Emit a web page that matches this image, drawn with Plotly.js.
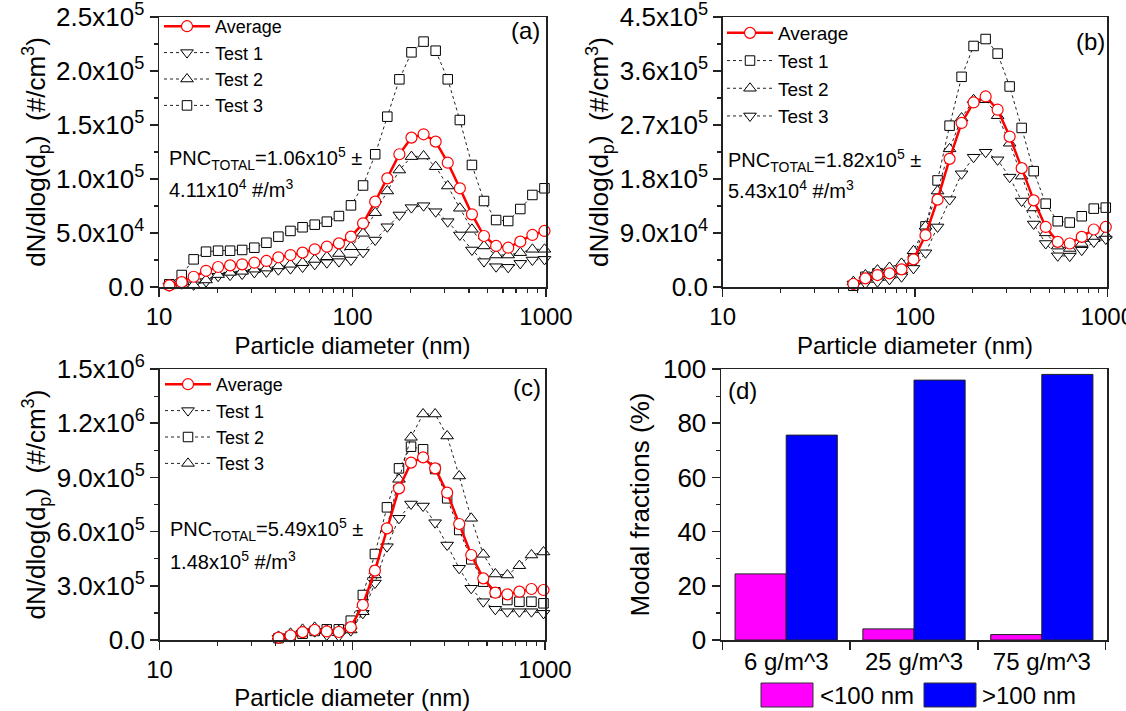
<!DOCTYPE html>
<html><head><meta charset="utf-8">
<script src="https://cdn.plot.ly/plotly-3.0.1.min.js"></script>
<style>html,body{margin:0;padding:0;background:#fff}#chart{width:1126px;height:711px}</style>
</head><body><div id="chart"></div>
<script>
// ---------- DATA ----------
// particle diameters (nm), SMPS channel midpoints
const dpA = [11.3, 13.1, 15.1, 17.5, 20.2, 23.3, 26.9, 31.1, 35.9, 41.4, 47.8, 55.2, 63.8, 73.7, 85.1, 98.2, 113.4, 131.0, 151.3, 174.7, 201.7, 233.0, 269.0, 310.6, 358.7, 414.2, 478.3, 552.3, 637.8, 736.5, 850.5, 982.1];
const dpB = [47.8, 55.2, 63.8, 73.7, 85.1, 98.2, 113.4, 131.0, 151.3, 174.7, 201.7, 233.0, 269.0, 310.6, 358.7, 414.2, 478.3, 552.3, 637.8, 736.5, 850.5, 982.1];
const dpC = [41.4, 47.8, 55.2, 63.8, 73.7, 85.1, 98.2, 113.4, 131.0, 151.3, 174.7, 201.7, 233.0, 269.0, 310.6, 358.7, 414.2, 478.3, 552.3, 637.8, 736.5, 850.5, 982.1];

// panel (a) 6 g/m^3
const aAvg = [1500, 4500, 9500, 15000, 18500, 20000, 21000, 22500, 24100, 27500, 29600, 31800, 34900, 37300, 40400, 46600, 59000, 79000, 100600, 122900, 138300, 141400, 134600, 115100, 91400, 67300, 47200, 38000, 36400, 42000, 48200, 51900];
const aTest1 = [1000, 3000, 2000, 5000, 10000, 11000, 12000, 13500, 14000, 16000, 17000, 18500, 21000, 22500, 23500, 25000, 32100, 43500, 55800, 66700, 73500, 75300, 69700, 60500, 48200, 34300, 23500, 18800, 18200, 21900, 25000, 25600];
const aTest2 = [1000, 2000, 2000, 6500, 11500, 13500, 14500, 16500, 17500, 19500, 21000, 22500, 25500, 28000, 31000, 37300, 49700, 68800, 88900, 108300, 120700, 121300, 111400, 93500, 72900, 53400, 38000, 29600, 29600, 31800, 34900, 34900];
const aTest3 = [2500, 11100, 25600, 32700, 33600, 33600, 34300, 36400, 41000, 46600, 51900, 55300, 57700, 60500, 65700, 75600, 94000, 122900, 157700, 192300, 217300, 227200, 218800, 192300, 154600, 113000, 79600, 62000, 61100, 72200, 85200, 91400];

// panel (b) 25 g/m^3
const bAvg = [5000, 14400, 19900, 22700, 29400, 46000, 86300, 145600, 213600, 273400, 307600, 317600, 295500, 250700, 198100, 144400, 100100, 75200, 72500, 83500, 95800, 100100];
const bTest1 = [2000, 17000, 22700, 24000, 30000, 50000, 101000, 177600, 268900, 350300, 401700, 413300, 389000, 334200, 265100, 193100, 138900, 109600, 107400, 117900, 130600, 132300];
const bTest2 = [8900, 19900, 28200, 32600, 39300, 60300, 101300, 159900, 230200, 281600, 312100, 312100, 285500, 239600, 184800, 131700, 90200, 68100, 64200, 72500, 80800, 86300];
const bTest3 = [5000, 6100, 8900, 12700, 17100, 31000, 57000, 100100, 145600, 188700, 216300, 224600, 212000, 183100, 143300, 105000, 72500, 52000, 51500, 61400, 75000, 80000];

// panel (c) 75 g/m^3
const cAvg = [13000, 25000, 43600, 55400, 47200, 44400, 71000, 193700, 383800, 618100, 839500, 981600, 1011000, 950100, 815500, 642100, 470500, 341300, 262000, 252800, 267500, 282300, 276800];
const cTest1 = [9400, 18500, 36900, 46100, 27700, 22100, 51700, 147600, 315000, 516400, 673600, 752800, 741700, 649300, 525800, 396900, 286200, 212000, 169900, 156700, 156700, 156700, 147600];
const cTest2 = [10000, 20000, 35000, 50000, 59000, 59000, 107000, 249100, 476000, 734300, 950100, 1069900, 1055500, 946500, 784100, 608900, 446600, 322900, 263900, 221400, 212000, 212000, 203000];
const cTest3 = [20000, 37000, 59000, 70000, 55000, 52000, 55400, 156700, 360000, 618100, 889300, 1121800, 1250900, 1250900, 1129100, 907700, 673600, 474200, 365300, 359800, 411300, 470500, 487100];

// panel (d) modal fractions
const loadings = ['6 g/m^3', '25 g/m^3', '75 g/m^3'];
const below100 = [24.4, 4.1, 2.0];
const above100 = [75.6, 95.9, 98.0];

// tick labels
const xTickVals = [10, 100, 1000];
const xTickText = ['10', '100', '1000'];
const xMinorVals = [20, 30, 40, 50, 60, 70, 80, 90, 200, 300, 400, 500, 600, 700, 800, 900];
const yTicksA = [0, 50000, 100000, 150000, 200000, 250000];
const yLabelsA = ['0.0', '5.0x10<sup>4</sup>', '1.0x10<sup>5</sup>', '1.5x10<sup>5</sup>', '2.0x10<sup>5</sup>', '2.5x10<sup>5</sup>'];
const yMinorA = [25000, 75000, 125000, 175000, 225000];
const yTicksB = [0, 90000, 180000, 270000, 360000, 450000];
const yLabelsB = ['0.0', '9.0x10<sup>4</sup>', '1.8x10<sup>5</sup>', '2.7x10<sup>5</sup>', '3.6x10<sup>5</sup>', '4.5x10<sup>5</sup>'];
const yMinorB = [45000, 135000, 225000, 315000, 405000];
const yTicksC = [0, 300000, 600000, 900000, 1200000, 1500000];
const yLabelsC = ['0.0', '3.0x10<sup>5</sup>', '6.0x10<sup>5</sup>', '9.0x10<sup>5</sup>', '1.2x10<sup>6</sup>', '1.5x10<sup>6</sup>'];
const yMinorC = [150000, 450000, 750000, 1050000, 1350000];
const yTicksD = [0, 20, 40, 60, 80, 100];
const yMinorD = [10, 30, 50, 70, 90];

// ---------- STYLE ----------
const F = 'Arial, "Liberation Sans", sans-serif';
const W = 1126, H = 711;
const px = v => v / W;
const py = v => 1 - v / H;

function testTrace(x, y, name, symbol, size, xa, ya, leg, rank) {
  return {type: 'scatter', mode: 'lines+markers', x: x, y: y, name: name, xaxis: xa, yaxis: ya,
    legend: leg, legendrank: rank, cliponaxis: false,
    line: {color: '#222', width: 1, dash: '3px,3px'},
    marker: {symbol: symbol, size: size, color: '#fff', line: {color: '#000', width: 1}}};
}
function avgTrace(x, y, xa, ya, leg) {
  return {type: 'scatter', mode: 'lines+markers', x: x, y: y, name: 'Average', xaxis: xa, yaxis: ya,
    legend: leg, legendrank: 1, cliponaxis: false,
    line: {color: '#ff0000', width: 2.5},
    marker: {symbol: 'circle', size: 11, color: '#fff', line: {color: '#ff0000', width: 1.2}}};
}

const traces = [
  testTrace(dpA, aTest1, 'Test 1', 'triangle-down', 11, 'x', 'y', 'legend', 2),
  testTrace(dpA, aTest2, 'Test 2', 'triangle-up', 11, 'x', 'y', 'legend', 3),
  testTrace(dpA, aTest3, 'Test 3', 'square', 9.5, 'x', 'y', 'legend', 4),
  avgTrace(dpA, aAvg, 'x', 'y', 'legend'),
  testTrace(dpB, bTest1, 'Test 1', 'square', 9.5, 'x2', 'y2', 'legend2', 2),
  testTrace(dpB, bTest2, 'Test 2', 'triangle-up', 11, 'x2', 'y2', 'legend2', 3),
  testTrace(dpB, bTest3, 'Test 3', 'triangle-down', 11, 'x2', 'y2', 'legend2', 4),
  avgTrace(dpB, bAvg, 'x2', 'y2', 'legend2'),
  testTrace(dpC, cTest1, 'Test 1', 'triangle-down', 11, 'x3', 'y3', 'legend3', 2),
  testTrace(dpC, cTest2, 'Test 2', 'square', 9.5, 'x3', 'y3', 'legend3', 3),
  testTrace(dpC, cTest3, 'Test 3', 'triangle-up', 11, 'x3', 'y3', 'legend3', 4),
  avgTrace(dpC, cAvg, 'x3', 'y3', 'legend3'),
  {type: 'bar', x: loadings, y: below100, name: '<100 nm', xaxis: 'x4', yaxis: 'y4', showlegend: false,
   marker: {color: '#ff00ff', line: {color: '#222', width: 1}}},
  {type: 'bar', x: loadings, y: above100, name: '>100 nm', xaxis: 'x4', yaxis: 'y4', showlegend: false,
   marker: {color: '#0000ff', line: {color: '#222', width: 1}}}
];

const baseAx = {showline: true, linecolor: '#222', linewidth: 1.5, mirror: true, ticks: 'outside',
  ticklen: 8, tickwidth: 1.5, tickcolor: '#222', showgrid: false, zeroline: false,
  tickfont: {family: F, size: 24, color: '#000'}, fixedrange: true, automargin: false,
  ticklabeloverflow: 'allow'};
const minorStyle = {ticks: 'outside', ticklen: 4, tickwidth: 1.2, tickcolor: '#222', tickmode: 'array'};

function logX(domain, anchor) {
  return Object.assign({}, baseAx, {type: 'log', domain: domain, anchor: anchor, range: [1, 3],
    tickmode: 'array', tickvals: xTickVals, ticktext: xTickText,
    minor: Object.assign({}, minorStyle, {tickvals: xMinorVals}),
    title: {text: 'Particle diameter (nm)', font: {family: F, size: 24, color: '#000'}, standoff: 8}});
}
const yTitleDN = 'dN/dlog(d<sub>p</sub>)\u00a0\u00a0(#/cm<sup>3</sup>)';
function linY(domain, anchor, max, vals, labels, minors, title) {
  return Object.assign({}, baseAx, {domain: domain, anchor: anchor, range: [0, max],
    tickmode: 'array', tickvals: vals, ticktext: labels,
    tickfont: {family: F, size: 26, color: '#000'},
    minor: Object.assign({}, minorStyle, {tickvals: minors}),
    title: {text: title, font: {family: F, size: 26, color: '#000'}, standoff: 3}});
}

const domAx = [px(159), px(546)], domAy = [py(287), py(17)];
const domBx = [px(722.7), px(1107.3)], domBy = [py(287), py(17)];
const domCx = [px(159.6), px(545)], domCy = [py(640), py(369)];
const domDx = [px(721), px(1107)], domDy = [py(640), py(369)];

function legendAt(x, y, size) {
  return {x: x, y: y, xanchor: 'left', yanchor: 'top', bgcolor: 'rgba(0,0,0,0)', borderwidth: 0,
    font: {family: F, size: size, color: '#000'}, itemwidth: 46, tracegroupgap: 0, traceorder: 'normal'};
}

function ann(text, x, y, size, xanchor) {
  return {text: text, x: px(x), y: py(y), xref: 'paper', yref: 'paper', xanchor: xanchor || 'center',
    yanchor: 'middle', showarrow: false, font: {family: F, size: size, color: '#000'}};
}
const layout = {
  width: W, height: H, margin: {l: 0, r: 0, t: 0, b: 0},
  paper_bgcolor: '#fff', plot_bgcolor: '#fff', showlegend: true,
  barmode: 'group', bargap: 0.2, bargroupgap: 0,
  xaxis: logX(domAx, 'y'),
  yaxis: linY(domAy, 'x', 250000, yTicksA, yLabelsA, yMinorA, yTitleDN),
  xaxis2: logX(domBx, 'y2'),
  yaxis2: linY(domBy, 'x2', 450000, yTicksB, yLabelsB, yMinorB, yTitleDN),
  xaxis3: logX(domCx, 'y3'),
  yaxis3: linY(domCy, 'x3', 1500000, yTicksC, yLabelsC, yMinorC, yTitleDN),
  xaxis4: Object.assign({}, baseAx, {domain: domDx, anchor: 'y4', type: 'category', range: [-0.51, 2.51],
    tickson: 'boundaries'}),
  yaxis4: Object.assign({}, baseAx, {domain: domDy, anchor: 'x4', range: [0, 100], tickmode: 'array',
    tickvals: yTicksD, ticktext: yTicksD.map(String), tickfont: {family: F, size: 26, color: '#000'},
    minor: Object.assign({}, minorStyle, {tickvals: yMinorD}),
    title: {text: 'Modal fractions (%)', font: {family: F, size: 26, color: '#000'}, standoff: 6}}),
  legend: legendAt(px(159), py(8), 18),
  legend2: legendAt(px(722), py(14), 19),
  legend3: legendAt(px(160), py(366), 18),
  annotations: [
    ann('(a)', 525, 31, 24),
    ann('(b)', 1090, 41, 24),
    ann('(c)', 527, 388, 24),
    ann('(d)', 742, 390, 24),
    ann('PNC<sub>TOTAL</sub>=1.06x10<sup>5</sup> ±', 167, 158, 20, 'left'),
    ann('4.11x10<sup>4</sup> #/m<sup>3</sup>', 167, 188, 20, 'left'),
    ann('PNC<sub>TOTAL</sub>=1.82x10<sup>5</sup> ±', 726, 160, 20, 'left'),
    ann('5.43x10<sup>4</sup> #/m<sup>3</sup>', 726, 190, 20, 'left'),
    ann('PNC<sub>TOTAL</sub>=5.49x10<sup>5</sup> ±', 168, 529, 20, 'left'),
    ann('1.48x10<sup>5</sup> #/m<sup>3</sup>', 168, 560, 20, 'left'),
    ann('&lt;100 nm', 818, 695, 24, 'left'),
    ann('&gt;100 nm', 980, 695, 24, 'left')
  ],
  shapes: [
    {type: 'rect', xref: 'paper', yref: 'paper', x0: px(761), x1: px(813), y0: py(707), y1: py(683), fillcolor: '#ff00ff', line: {color: '#333', width: 1}},
    {type: 'rect', xref: 'paper', yref: 'paper', x0: px(924), x1: px(976), y0: py(707), y1: py(683), fillcolor: '#0000ff', line: {color: '#333', width: 1}}
  ]
};

Plotly.newPlot('chart', traces, layout, {displayModeBar: false, staticPlot: true});
</script></body></html>
